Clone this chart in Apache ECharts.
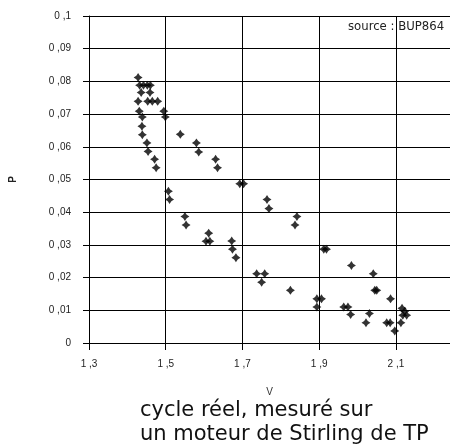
<!DOCTYPE html>
<html lang="fr">
<head>
    <meta charset="UTF-8">
    <title>cycle réel</title>
    <script src="https://cdn.jsdelivr.net/npm/echarts@6/dist/echarts.min.js"></script>
    <style>
        html, body { margin: 0; padding: 0; background: #fff; }
        #main { width: 450px; height: 445px; }
    </style>
</head>
<body>
<div id="main"></div>
<script>
    var vValues = [
        1.428, 1.432, 1.442, 1.452, 1.460, 1.436, 1.459, 1.428, 1.453, 1.465,
        1.479, 1.431, 1.495, 1.439, 1.499, 1.438, 1.439, 1.538, 1.451, 1.454,
        1.580, 1.586, 1.471, 1.475, 1.630, 1.635, 1.693, 1.703, 1.507, 1.510,
        1.764, 1.769, 1.550, 1.553, 1.842, 1.837, 1.612, 1.605, 1.615, 1.672,
        1.674, 1.683, 1.912, 1.919, 1.737, 1.758, 1.750, 1.984, 2.041, 1.825,
        2.045, 2.050, 1.894, 1.906, 1.894, 1.964, 1.975, 1.982, 2.031, 2.022,
        2.086, 2.076, 2.085, 2.097, 2.113, 2.116, 2.123, 2.128, 2.118
    ];
    var pValues = [
        0.0812, 0.0788, 0.0788, 0.0788, 0.0788, 0.0766, 0.0766, 0.0739, 0.0739, 0.0739,
        0.0739, 0.0709, 0.0709, 0.0691, 0.0691, 0.0663, 0.0637, 0.0638, 0.0612, 0.0586,
        0.0612, 0.0584, 0.0562, 0.0536, 0.0562, 0.0536, 0.0487, 0.0487, 0.0464, 0.0439,
        0.0439, 0.0411, 0.0387, 0.0361, 0.0387, 0.0361, 0.0336, 0.0311, 0.0311, 0.0312,
        0.0287, 0.0261, 0.0287, 0.0287, 0.0212, 0.0212, 0.0186, 0.0237, 0.0212, 0.0161,
        0.0161, 0.0161, 0.0135, 0.0135, 0.0110, 0.0110, 0.0110, 0.0087, 0.0090, 0.0062,
        0.0135, 0.0062, 0.0062, 0.0037, 0.0062, 0.0106, 0.0097, 0.0085, 0.0085
    ];

    var points = [];
    for (var i = 0; i < vValues.length; i++) {
        points.push([vValues[i], pValues[i]]);
    }

    function frNum(v) {
        var s = String(Math.round(v * 100) / 100);
        return s.replace('.', ' ,');
    }

    var chart = echarts.init(document.getElementById('main'), null, { renderer: 'canvas' });

    var labelFont = {
        fontFamily: 'Liberation Sans',
        fontSize: 10,
        color: '#222'
    };

    chart.setOption({
        animation: false,
        backgroundColor: '#fff',
        grid: { left: 86, top: 16, right: 0, bottom: 102 },
        xAxis: {
            type: 'value',
            min: 1.3,
            max: 2.241,
            interval: 0.2,
            name: 'V',
            nameLocation: 'middle',
            nameGap: 44,
            nameTextStyle: { fontFamily: 'Liberation Sans', fontSize: 10, color: '#333' },
            axisLine: { show: true, lineStyle: { color: '#000', width: 1 } },
            axisTick: { show: true, length: 7, lineStyle: { color: '#000' } },
            axisLabel: Object.assign({ margin: 16, showMaxLabel: false, formatter: frNum }, labelFont),
            splitLine: { show: true, lineStyle: { color: '#000', width: 1 } }
        },
        yAxis: {
            type: 'value',
            min: 0,
            max: 0.1,
            interval: 0.01,
            name: 'P',
            nameLocation: 'middle',
            nameGap: 71,
            nameTextStyle: { fontFamily: 'Liberation Sans', fontSize: 10, fontWeight: 'bold', color: '#222' },
            axisLine: { show: true, lineStyle: { color: '#000', width: 1 } },
            axisTick: { show: true, length: 6, lineStyle: { color: '#000' } },
            axisLabel: Object.assign({ margin: 18, formatter: frNum }, labelFont),
            splitLine: { show: true, lineStyle: { color: '#000', width: 1 } }
        },
        graphic: [
            {
                type: 'text',
                left: 348,
                top: 21,
                style: {
                    text: 'source : BUP864',
                    font: '11.7px "DejaVu Sans"',
                    fill: '#222'
                }
            },
            {
                type: 'text',
                left: 140,
                top: 399,
                style: {
                    text: 'cycle réel, mesuré sur\nun moteur de Stirling de TP',
                    font: '21px "DejaVu Sans"',
                    lineHeight: 24,
                    fill: '#111'
                }
            }
        ],
        series: [{
            type: 'scatter',
            data: points,
            symbol: 'path://M0,-5 L2,-2 L5,0 L2,2 L0,5 L-2,2 L-5,0 L-2,-2 Z',
            symbolSize: 9,
            itemStyle: { color: '#000' }
        }]
    });
</script>
</body>
</html>
